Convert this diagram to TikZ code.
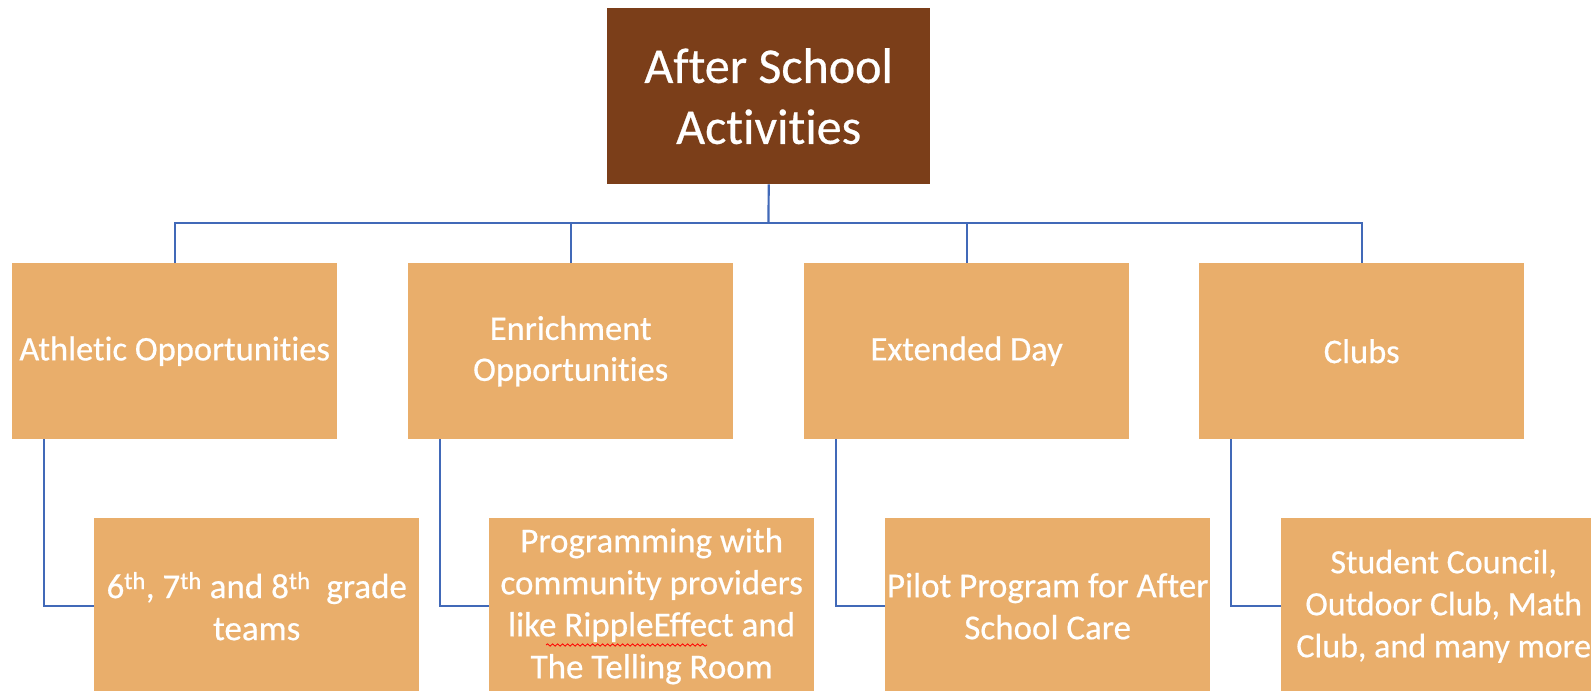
\documentclass[tikz,border=0pt]{standalone}
\usepackage{fontspec}
\setmainfont{Carlito}[FakeBold=0.5, Ligatures=NoCommon]
\usetikzlibrary{decorations.pathmorphing}
\definecolor{brownbox}{HTML}{7B3E19}
\definecolor{orangebox}{HTML}{E9AE6B}
\definecolor{linkblue}{HTML}{4169B8}
\begin{document}
\begin{tikzpicture}[x=1pt,y=-1pt,
  rootbox/.style={fill=brownbox, text=white, minimum width=323pt, minimum height=176pt, anchor=north west, inner sep=0pt, align=center, font=\fontsize{50}{61}\selectfont},
  catbox/.style={fill=orangebox, text=white, minimum width=325pt, minimum height=176pt, anchor=north west, inner sep=0pt, align=center, font=\fontsize{34.5}{41}\selectfont},
  subbox/.style={catbox, font=\fontsize{35}{42}\selectfont},
  link/.style={draw=linkblue, line width=2.2pt},
  spell/.style={draw=red, line width=0.8pt, decorate, decoration={snake, segment length=5pt, amplitude=1.2pt}}]
\useasboundingbox (0,0) rectangle (1591,691);
\clip (0,0) rectangle (1591,691);
\node[rootbox] (root) at (607,8) {After School\\Activities};
\node[catbox] (a) at (12,263) {Athletic Opportunities};
\node[catbox] (b) at (408,263) {Enrichment\\Opportunities};
\node[catbox] (c) at (804,263) {Extended Day};
\node[catbox] (d) at (1199,263) {Clubs};
\node[subbox] (a1) at (94,518) {6\textsuperscript{th}, 7\textsuperscript{th} and 8\textsuperscript{th}\ \ grade\\teams};
\node[subbox] (b1) at (489,518) {Programming with\\community providers\\like RippleEffect and\\The Telling Room};
\node[subbox] (c1) at (885,518) {Pilot Program for After\\School Care};
\node[subbox, font=\fontsize{34}{42}\selectfont] (d1) at (1281,518) {Student Council,\\Outdoor Club, Math\\Club, and many more};
\coordinate (j) at (768.5,223);
\draw[link] (root.south) -- (j);
\draw[link] (a.north) |- (j) -| (d.north);
\draw[link] (b.north) -- (b.north |- j);
\draw[link] (c.north) -- (c.north |- j);
\draw[link] ([xshift=32pt]a.south west) |- (a1.west);
\draw[link] ([xshift=32pt]b.south west) |- (b1.west);
\draw[link] ([xshift=32pt]c.south west) |- (c1.west);
\draw[link] ([xshift=32pt]d.south west) |- (d1.west);
\coordinate (s1) at (546,645);
\coordinate (s2) at (707,645);
\draw[spell] (s1) -- (s2);
\end{tikzpicture}
\end{document}
